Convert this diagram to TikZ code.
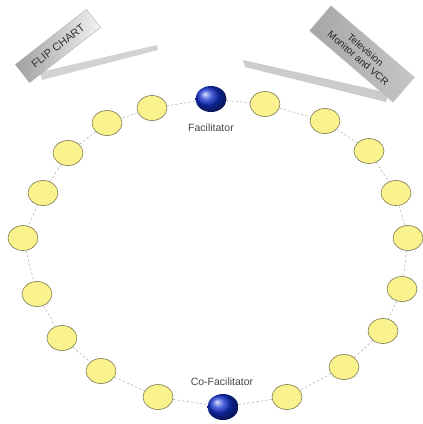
\documentclass[tikz,border=0pt]{standalone}
\usepackage{fontspec}
\setmainfont{Liberation Sans}
\usetikzlibrary{shapes.geometric}
\definecolor{seat}{RGB}{250,242,140}
\definecolor{seatedge}{RGB}{120,120,80}
\definecolor{lbl}{RGB}{70,70,70}
\begin{document}
\begin{tikzpicture}[x=1pt,y=-1pt,
  seatnode/.style={ellipse,draw=seatedge,line width=0.6pt,fill=seat,minimum width=30pt,minimum height=25pt,inner sep=0pt},
  leadnode/.style={ellipse,shading=ball,ball color={rgb,255:red,20;green,50;blue,210},draw=none,minimum width=31pt,minimum height=26pt,inner sep=0pt},
  link/.style={draw=gray!55,line width=0.6pt,dash pattern=on 2.5pt off 2pt},
  lab/.style={font=\fontsize{10.5}{12}\selectfont,text=lbl}]
\useasboundingbox (0,0) rectangle (423,424);
% stands
\fill[gray!35] (40,72) -- (42,80) -- (158,50) -- (157,45) -- cycle;
\fill[gray!40] (243,60) -- (245,67) -- (386,102) -- (389,93) -- cycle;
% flip chart
\node (flip) [rotate=37.8,minimum width=90pt,minimum height=23pt,inner sep=1pt,left color=gray!75,right color=gray!10,draw=gray!60,line width=0.4pt,font=\fontsize{11}{12}\selectfont,text=black!80] at (58,46) {FLIP CHART};
% TV
\node (tv) [rotate=-40.6,minimum width=110pt,minimum height=33pt,inner sep=1pt,left color=gray!70,right color=gray!45,draw=gray!40,line width=0.4pt,align=center,font=\fontsize{10}{11}\selectfont,text=black!85] at (362,54) {Television\\Monitor and VCR};
% seats
\node[leadnode] (f) at (211,99) {};
\node[leadnode] (c) at (223,407) {};
\node[seatnode] (l1) at (152,108) {};
\node[seatnode] (l2) at (107,123) {};
\node[seatnode] (l3) at (68,153) {};
\node[seatnode] (l4) at (43,193) {};
\node[seatnode] (l5) at (23,238) {};
\node[seatnode] (l6) at (37,294) {};
\node[seatnode] (l7) at (62,338) {};
\node[seatnode] (l8) at (101,371) {};
\node[seatnode] (l9) at (158,397) {};
\node[seatnode] (r1) at (265,104) {};
\node[seatnode] (r2) at (325,121) {};
\node[seatnode] (r3) at (369,151) {};
\node[seatnode] (r4) at (396,193) {};
\node[seatnode] (r5) at (408,238) {};
\node[seatnode] (r6) at (402,289) {};
\node[seatnode] (r7) at (383,331) {};
\node[seatnode] (r8) at (344,367) {};
\node[seatnode] (r9) at (287,397) {};
% links
\path[link] (f) -- (l1) (l1) -- (l2) (l2) -- (l3) (l3) -- (l4) (l4) -- (l5) (l5) -- (l6) (l6) -- (l7) (l7) -- (l8) (l8) -- (l9) (l9) -- (c);
\path[link] (f) -- (r1) (r1) -- (r2) (r2) -- (r3) (r3) -- (r4) (r4) -- (r5) (r5) -- (r6) (r6) -- (r7) (r7) -- (r8) (r8) -- (r9) (r9) -- (c);
% labels
\node[lab] (flab) at (211,128) {Facilitator};
\node[lab] (clab) at (222,382) {Co-Facilitator};
\end{tikzpicture}
\end{document}
